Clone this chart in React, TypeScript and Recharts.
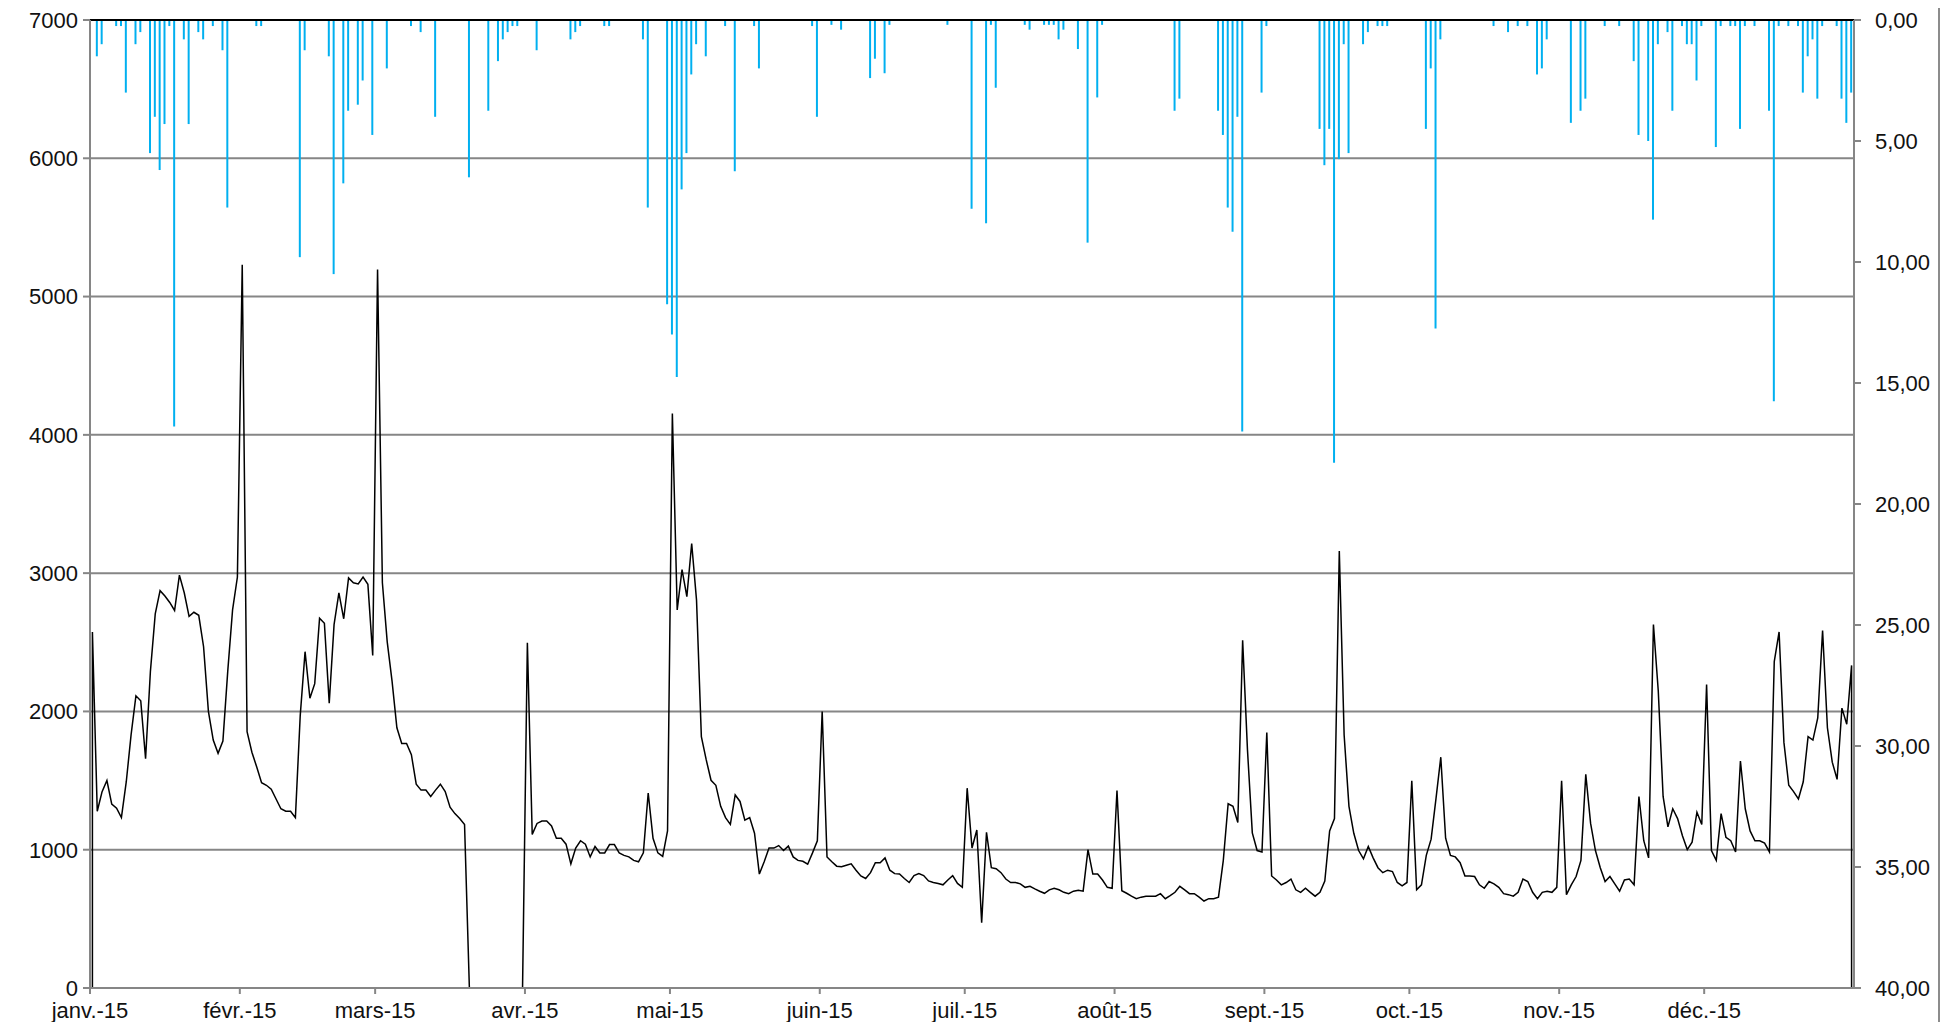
import React from 'react';
import {
  Bar,
  CartesianGrid,
  ComposedChart,
  Line,
  ReferenceLine,
  XAxis,
  YAxis
} from 'recharts';

// month ticks (day of year where each month starts)
const monthStarts = [0, 31, 59, 90, 120, 151, 181, 212, 243, 273, 304, 334];
const monthLabels = [
  'janv.-15', 'févr.-15', 'mars-15', 'avr.-15', 'mai-15', 'juin-15',
  'juil.-15', 'août-15', 'sept.-15', 'oct.-15', 'nov.-15', 'déc.-15'
];

const leftTicks = [0, 1000, 2000, 3000, 4000, 5000, 6000, 7000];
const rightTicks = [0, 5, 10, 15, 20, 25, 30, 35, 40];

// daily visits, one array per month
const visitsJan = [2575, 1278, 1420, 1500, 1330, 1300, 1232, 1490, 1830, 2113, 2077, 1658, 2290, 2705, 2873, 2834, 2788, 2730, 2986, 2858, 2688, 2717, 2695, 2468, 2000, 1793, 1697, 1786, 2290, 2734, 2972];
const visitsFeb = [5230, 1853, 1705, 1598, 1484, 1466, 1438, 1367, 1296, 1278, 1278, 1232, 1970, 2432, 2095, 2201, 2674, 2638, 2060, 2628, 2858, 2670, 2965, 2930, 2922, 2972, 2919, 2404];
const visitsMar = [5195, 2930, 2503, 2219, 1882, 1768, 1768, 1687, 1474, 1431, 1431, 1385, 1431, 1474, 1420, 1307, 1261, 1225, 1183, 0, 0, 0, 0, 0, 0, 0, 0, 0, 0, 0, 0];
const visitsApr = [2496, 1111, 1190, 1207, 1207, 1172, 1083, 1083, 1040, 898, 1012, 1065, 1040, 948, 1023, 977, 977, 1037, 1037, 977, 959, 948, 923, 913, 977, 1410, 1083, 977, 952, 1136];
const visitsMay = [4155, 2734, 3026, 2830, 3214, 2805, 1818, 1651, 1502, 1466, 1314, 1232, 1183, 1396, 1349, 1214, 1232, 1119, 824, 913, 1012, 1012, 1030, 994, 1026, 948, 923, 916, 895, 977, 1065];
const visitsJun = [2000, 948, 913, 881, 877, 888, 898, 852, 810, 792, 834, 906, 906, 941, 852, 827, 824, 792, 763, 813, 827, 813, 774, 763, 756, 746, 781, 813, 756, 728];
const visitsJul = [1445, 1012, 1143, 472, 1126, 870, 863, 834, 788, 763, 763, 753, 728, 735, 717, 700, 685, 710, 721, 710, 692, 682, 700, 707, 700, 1001, 824, 824, 781, 728, 721];
const visitsAug = [1428, 703, 685, 664, 646, 657, 664, 664, 664, 682, 646, 668, 692, 735, 710, 682, 682, 657, 629, 646, 646, 657, 923, 1332, 1314, 1197, 2514, 1722, 1122, 994, 984];
const visitsSep = [1847, 810, 781, 746, 763, 788, 710, 692, 721, 692, 664, 692, 774, 1136, 1225, 3160, 1829, 1314, 1119, 994, 934, 1023, 941, 870, 834, 852, 842, 763, 739, 763];
const visitsOct = [1499, 710, 746, 959, 1076, 1367, 1669, 1083, 959, 948, 906, 810, 810, 806, 746, 721, 770, 753, 728, 682, 675, 664, 692, 788, 770, 692, 646, 692, 700, 692, 728];
const visitsNov = [1499, 675, 746, 806, 923, 1545, 1190, 994, 870, 770, 806, 753, 700, 781, 788, 746, 1385, 1065, 941, 2628, 2148, 1385, 1165, 1296, 1225, 1101, 1001, 1055, 1271, 1183];
const visitsDec = [2195, 994, 923, 1261, 1090, 1065, 984, 1641, 1296, 1136, 1065, 1065, 1048, 984, 2361, 2575, 1776, 1466, 1420, 1367, 1491, 1818, 1793, 1953, 2585, 1882, 1633, 1509, 2024, 1907, 2333];

// daily rain (mm), one array per month
const rainJan = [0, 1.5, 1.0, 0, 0, 0.25, 0.25, 3.0, 0, 1.0, 0.5, 0, 5.5, 4.0, 6.2, 4.3, 0.25, 16.8, 0, 0.8, 4.3, 0, 0.5, 0.8, 0, 0.25, 0, 1.25, 7.75, 0, 0];
const rainFeb = [0, 0, 0, 0.25, 0.25, 0, 0, 0, 0, 0, 0, 0, 9.8, 1.25, 0, 0, 0, 0, 1.5, 10.5, 0, 6.75, 3.75, 0, 3.5, 2.5, 0, 4.75];
const rainMar = [0, 0, 2.0, 0, 0, 0, 0, 0.25, 0, 0.5, 0, 0, 4.0, 0, 0, 0, 0, 0, 0, 6.5, 0, 0, 0, 3.75, 0, 1.7, 0.8, 0.5, 0.25, 0.25, 0];
const rainApr = [0, 0, 1.25, 0, 0, 0, 0, 0, 0, 0.8, 0.5, 0.25, 0, 0, 0, 0, 0.25, 0.25, 0, 0, 0, 0, 0, 0, 0.8, 7.75, 0, 0, 0, 11.75];
const rainMay = [13.0, 14.75, 7.0, 5.5, 2.25, 1.0, 0, 1.5, 0, 0, 0, 0.25, 0, 6.25, 0, 0, 0, 0.25, 2.0, 0, 0, 0, 0, 0, 0, 0, 0, 0, 0, 0.25, 4.0];
const rainJun = [0, 0, 0.2, 0, 0.4, 0, 0, 0, 0, 0, 2.4, 1.6, 0, 2.2, 0.2, 0, 0, 0, 0, 0, 0, 0, 0, 0, 0, 0, 0.2, 0, 0, 0];
const rainJul = [0, 7.8, 0, 0, 8.4, 0.2, 2.8, 0, 0, 0, 0, 0, 0.2, 0.4, 0, 0, 0.2, 0.2, 0.2, 0.8, 0.4, 0, 0, 1.2, 0, 9.2, 0, 3.2, 0.2, 0, 0];
const rainAug = [0, 0, 0, 0, 0, 0, 0, 0, 0, 0, 0, 0, 3.75, 3.25, 0, 0, 0, 0, 0, 0, 0, 3.75, 4.75, 7.75, 8.75, 4.0, 17.0, 0, 0, 0, 3.0];
const rainSep = [0.25, 0, 0, 0, 0, 0, 0, 0, 0, 0, 0, 4.5, 6.0, 4.5, 18.3, 5.75, 1.0, 5.5, 0, 0, 1.0, 0.5, 0, 0.25, 0.25, 0.25, 0, 0, 0, 0];
const rainOct = [0, 0, 0, 4.5, 2.0, 12.75, 0.8, 0, 0, 0, 0, 0, 0, 0, 0, 0, 0, 0.25, 0, 0, 0.5, 0, 0.25, 0, 0.25, 0, 2.25, 2.0, 0.8, 0, 0];
const rainNov = [0, 0, 4.25, 0, 3.75, 3.25, 0, 0, 0, 0.25, 0, 0, 0.25, 0, 0, 1.7, 4.75, 0, 5.0, 8.25, 1.0, 0, 0.5, 3.75, 0, 0.25, 1.0, 1.0, 2.5, 0.25];
const rainDec = [0, 0, 5.25, 0.25, 0, 0.25, 0.25, 4.5, 0.25, 0, 0.25, 0, 0, 3.75, 15.75, 0.25, 0, 0.25, 0, 0.25, 3.0, 1.5, 0.8, 3.25, 0.25, 0, 0, 0.25, 3.25, 4.25, 3.0];

const visits = [
  ...visitsJan, ...visitsFeb, ...visitsMar, ...visitsApr, ...visitsMay, ...visitsJun,
  ...visitsJul, ...visitsAug, ...visitsSep, ...visitsOct, ...visitsNov, ...visitsDec
];
const rain = [
  ...rainJan, ...rainFeb, ...rainMar, ...rainApr, ...rainMay, ...rainJun,
  ...rainJul, ...rainAug, ...rainSep, ...rainOct, ...rainNov, ...rainDec
];

// each day is plotted at its middle (day + 0.5)
const dayRows = visits.map((v, i) => ({ day: i + 0.5, visits: v, rain: rain[i] }));
// the series starts and ends at zero
const lineRows = [
  { day: dayRows[0].day, visits: 0 },
  ...dayRows,
  { day: dayRows[dayRows.length - 1].day, visits: 0 }
];

const gridColor = '#868686';
const font = { fontFamily: '"Liberation Sans", Arial, sans-serif', fontSize: 22, fill: '#111' };

const formatRain = (v: number) => v.toFixed(2).replace('.', ',');
const formatMonth = (v: number) => monthLabels[monthStarts.indexOf(v)] ?? '';

const App: React.FC = () => {
  return (
    <div style={{ width: 1930, height: 1014, borderRight: '2px solid #8c8c8c' }}>
      <ComposedChart
        width={1930}
        height={1014}
        data={dayRows}
        margin={{ top: 12, right: 0, bottom: 0, left: 0 }}
      >
        <CartesianGrid
          yAxisId="left"
          vertical={false}
          stroke={gridColor}
          strokeWidth={2}
        />
        <XAxis
          dataKey="day"
          type="number"
          domain={[0, 365]}
          ticks={monthStarts}
          interval={0}
          tickFormatter={formatMonth}
          tick={font}
          height={34}
          tickSize={6}
          tickMargin={8}
          stroke={gridColor}
          strokeWidth={2}
        />
        <YAxis
          yAxisId="left"
          domain={[0, 7000]}
          ticks={leftTicks}
          interval={0}
          width={82}
          tick={font}
          tickSize={7}
          tickMargin={5}
          stroke={gridColor}
          strokeWidth={2}
        />
        <YAxis
          yAxisId="right"
          orientation="right"
          reversed
          domain={[0, 40]}
          ticks={rightTicks}
          interval={0}
          width={84}
          tick={{ ...font, textAnchor: 'start' }}
          tickFormatter={formatRain}
          tickSize={7}
          tickMargin={14}
          stroke={gridColor}
          strokeWidth={2}
        />
        <Bar
          yAxisId="right"
          dataKey="rain"
          fill="#00B0F0"
          barSize={2}
          isAnimationActive={false}
        />
        <ReferenceLine yAxisId="left" y={7000} stroke="#000" strokeWidth={2} />
        <Line
          yAxisId="left"
          data={lineRows}
          dataKey="visits"
          type="linear"
          stroke="#000"
          strokeWidth={1.5}
          dot={false}
          activeDot={false}
          isAnimationActive={false}
        />
      </ComposedChart>
    </div>
  );
};

export default App;
